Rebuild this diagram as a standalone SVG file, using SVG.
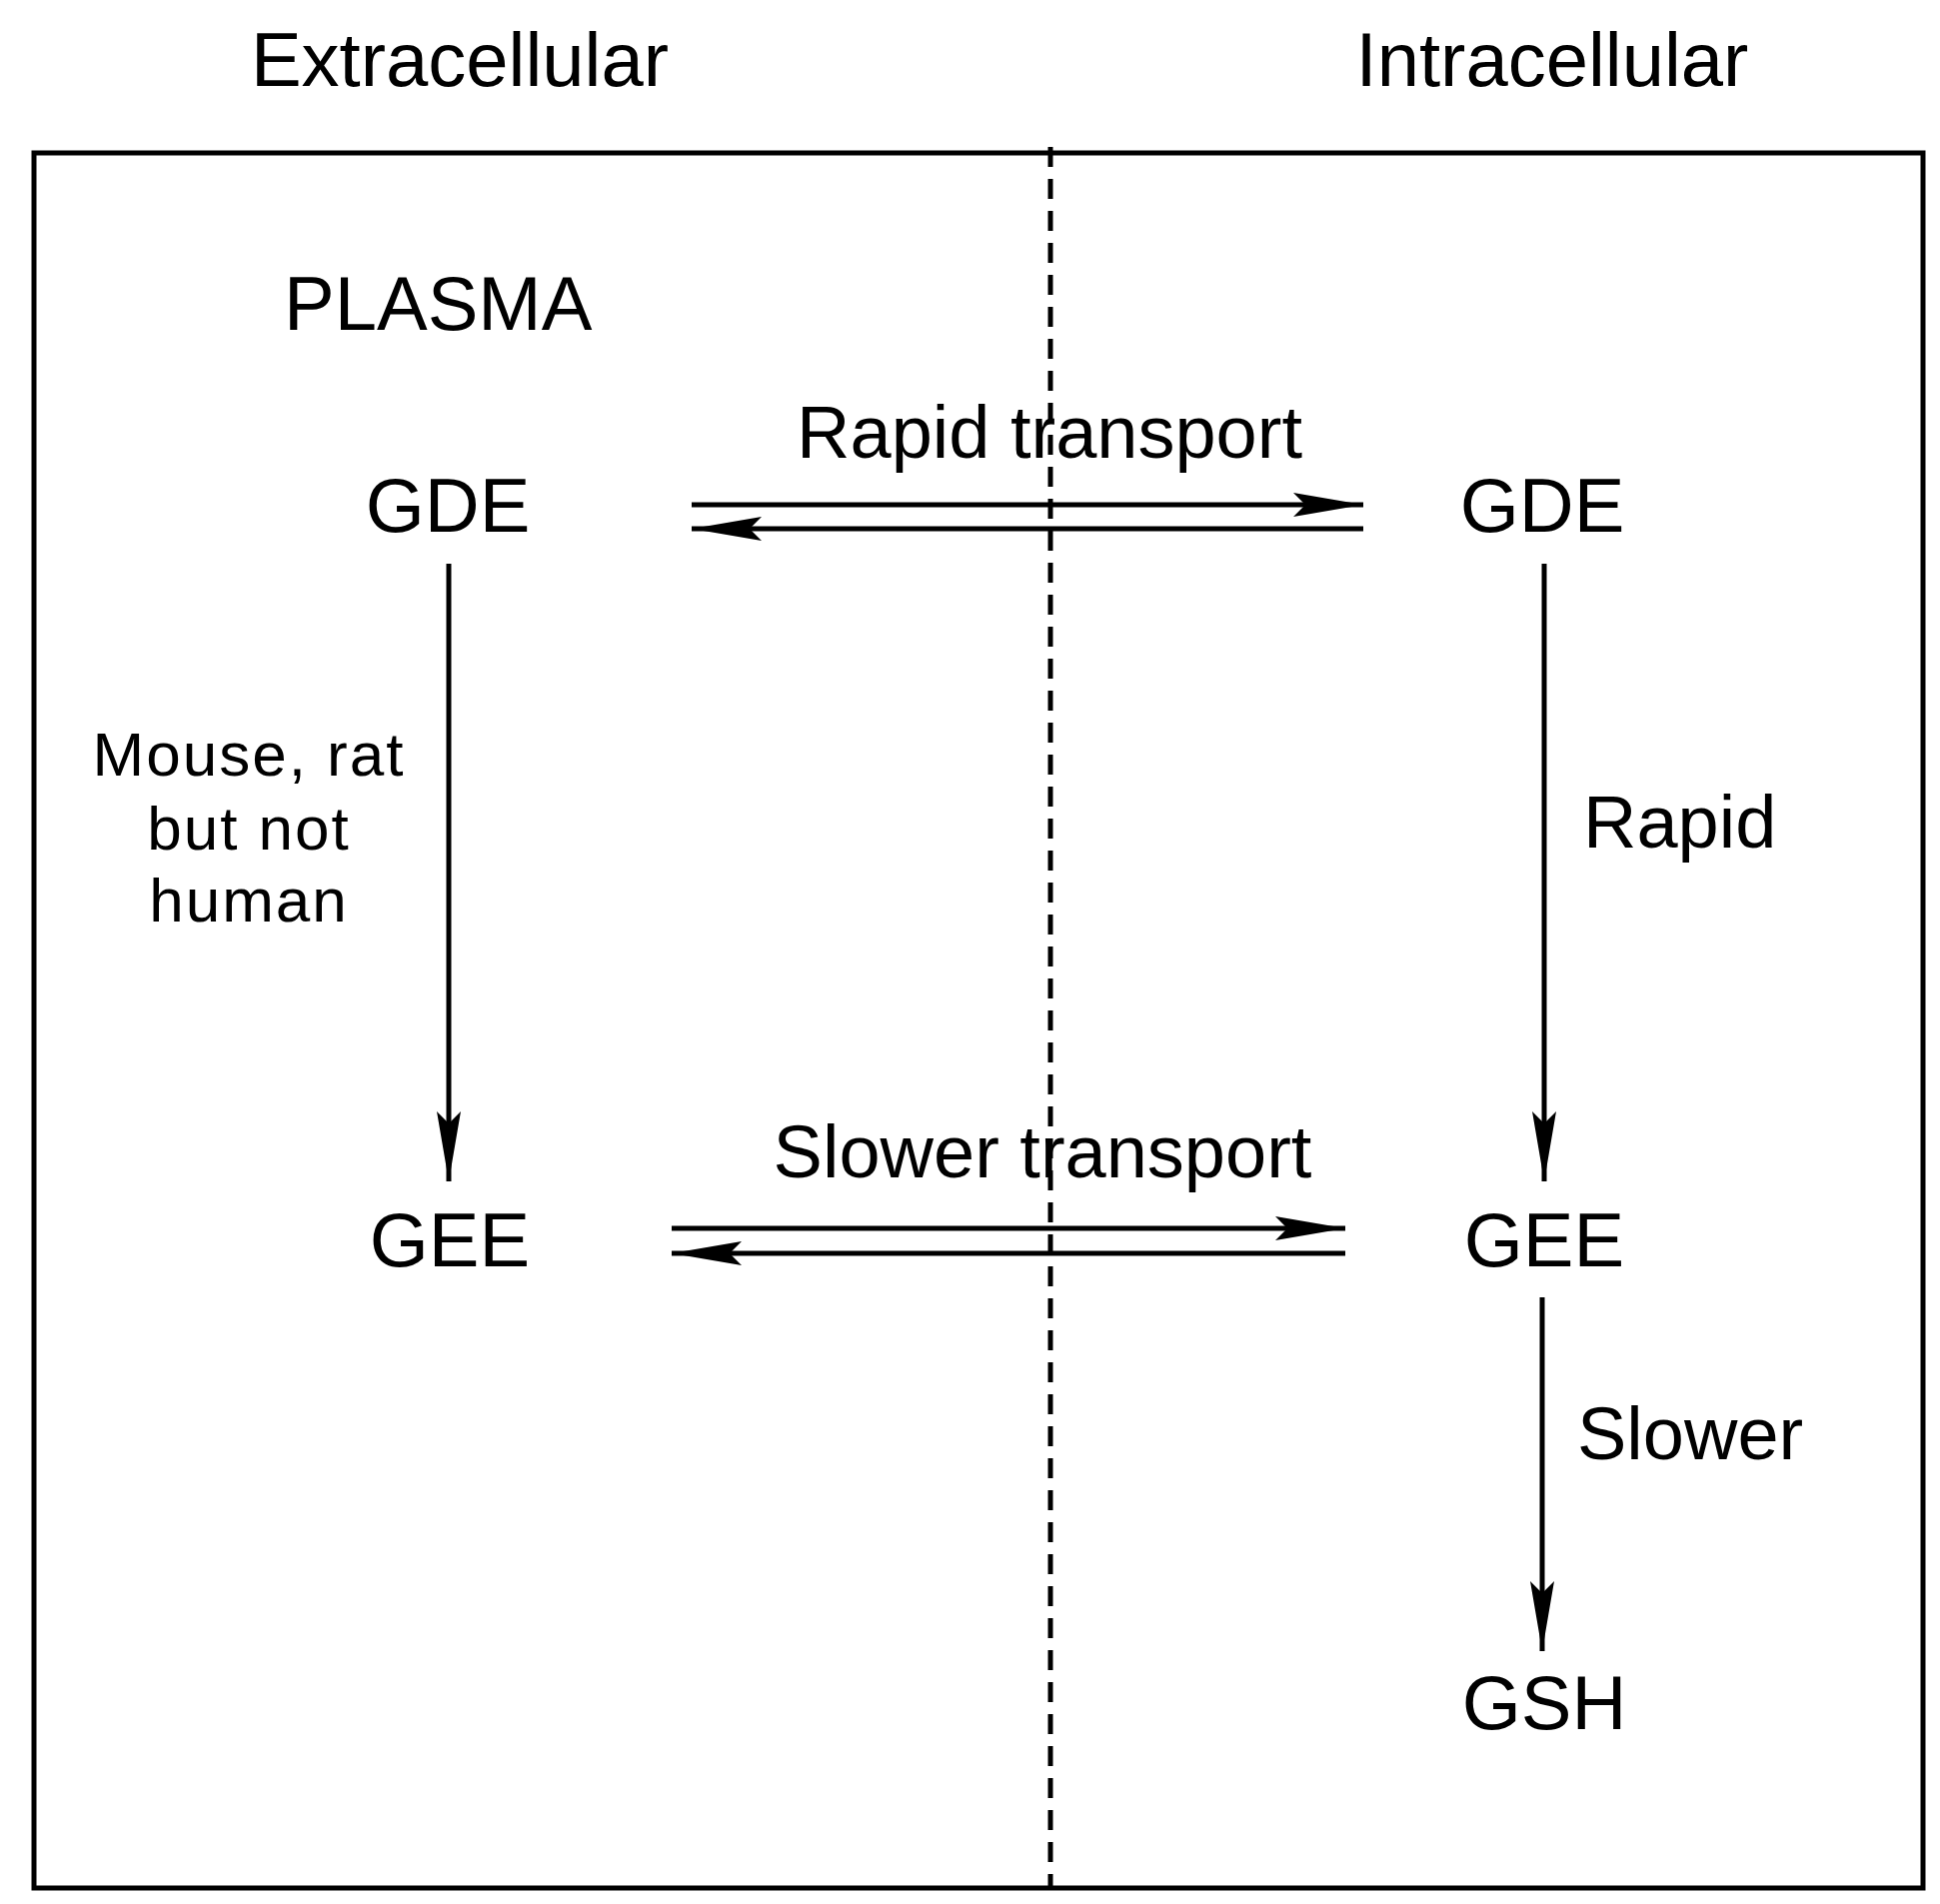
<svg xmlns="http://www.w3.org/2000/svg" width="1941" height="1905" viewBox="0 0 1941 1905">
<style>
text{font-family:"Liberation Sans",Arial,sans-serif;fill:#000}
.big{font-size:76px}
.mid{font-size:74px}
.sm{font-size:62px;letter-spacing:2px}
.ln{stroke:#000;stroke-width:5;fill:none}
</style>
<defs>
<marker id="ah" markerUnits="userSpaceOnUse" markerWidth="72" markerHeight="30" refX="70" refY="15" orient="auto">
<path d="M0,3 L70,15 L0,27 L12,15 Z" fill="#000"/>
</marker>
</defs>
<rect x="0" y="0" width="1941" height="1905" fill="#fff"/>
<rect x="34" y="153" width="1890" height="1736" class="ln"/>
<line x1="1051" y1="147" x2="1051" y2="1889" stroke="#000" stroke-width="5" stroke-dasharray="20,12"/>
<text x="460" y="86" class="big" text-anchor="middle">Extracellular</text>
<text x="1553" y="86" class="big" text-anchor="middle">Intracellular</text>
<text x="284" y="330" class="big">PLASMA</text>
<g id="connectors">
<line x1="692" y1="505" x2="1364" y2="505" class="ln" marker-end="url(#ah)"/>
<line x1="1364" y1="529" x2="692" y2="529" class="ln" marker-end="url(#ah)"/>
<line x1="672" y1="1229" x2="1346" y2="1229" class="ln" marker-end="url(#ah)"/>
<line x1="1346" y1="1254" x2="672" y2="1254" class="ln" marker-end="url(#ah)"/>
<line x1="449" y1="564" x2="449" y2="1182" class="ln" marker-end="url(#ah)"/>
<line x1="1545" y1="564" x2="1545" y2="1182" class="ln" marker-end="url(#ah)"/>
<line x1="1543" y1="1298" x2="1543" y2="1652" class="ln" marker-end="url(#ah)"/>
<text x="1050" y="458" class="mid" text-anchor="middle">Rapid transport</text>
<text x="1043" y="1178" class="mid" text-anchor="middle">Slower transport</text>
<text x="249" y="776" class="sm" text-anchor="middle">Mouse, rat</text>
<text x="249" y="850" class="sm" text-anchor="middle">but not</text>
<text x="249" y="922" class="sm" text-anchor="middle">human</text>
<text x="1584" y="848" class="mid">Rapid</text>
<text x="1578" y="1460" class="mid">Slower</text>
</g>
<g id="gde-ext"><text x="448" y="532" class="big" text-anchor="middle">GDE</text></g>
<g id="gde-int"><text x="1543" y="532" class="big" text-anchor="middle">GDE</text></g>
<g id="gee-ext"><text x="450" y="1267" class="big" text-anchor="middle">GEE</text></g>
<g id="gee-int"><text x="1545" y="1267" class="big" text-anchor="middle">GEE</text></g>
<g id="gsh"><text x="1545" y="1730" class="big" text-anchor="middle">GSH</text></g>
</svg>
